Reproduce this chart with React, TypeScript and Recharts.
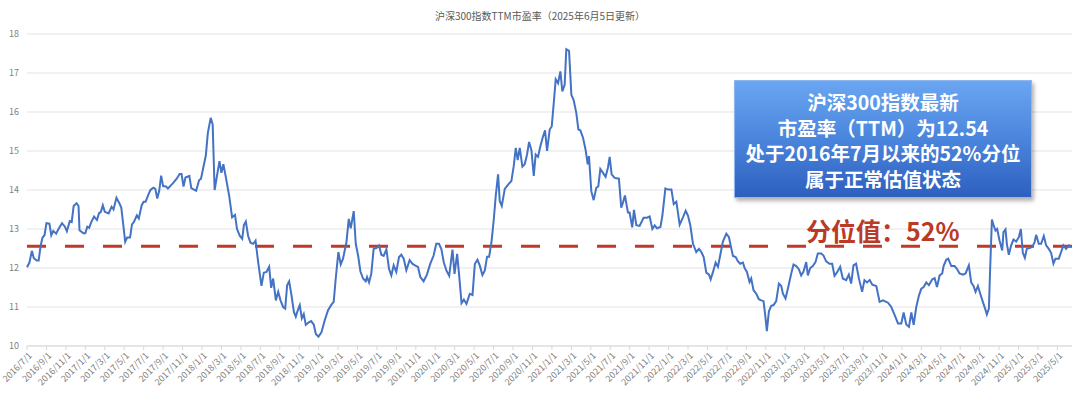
import React from 'react';
import {
  LineChart,
  Line,
  XAxis,
  YAxis,
  CartesianGrid,
  ReferenceLine,
} from 'recharts';

// x = months since 2016/7/1, y = PE (TTM)
const PE_2016_2018: [number, number][] = [
  [0, 12.02], [0.25, 12.14], [0.5, 12.44], [0.7, 12.25], [1.0, 12.19], [1.2, 12.19], [1.4, 12.57], [1.6, 12.78],
  [1.8, 12.84], [2.0, 13.15], [2.3, 13.14], [2.5, 12.84], [2.7, 12.95], [3.0, 12.88], [3.2, 12.98], [3.6, 13.15],
  [3.9, 13.06], [4.1, 12.94], [4.4, 13.2], [4.6, 13.18], [4.8, 13.59], [5.1, 13.66], [5.3, 13.59], [5.4, 12.97],
  [5.8, 12.89], [6.0, 12.89], [6.2, 13.06], [6.4, 13.03], [6.6, 13.17], [6.9, 13.32], [7.2, 13.23], [7.4, 13.4],
  [7.6, 13.44], [7.8, 13.61], [8.0, 13.44], [8.4, 13.4], [8.7, 13.57], [8.9, 13.5], [9.2, 13.8], [9.5, 13.66],
  [9.7, 13.55], [9.9, 13.12], [10.1, 12.67], [10.3, 12.78], [10.6, 12.78], [10.8, 13.12], [11.0, 13.18], [11.3, 13.35],
  [11.5, 13.27], [11.8, 13.61], [12.0, 13.7], [12.2, 13.7], [12.5, 13.89], [12.7, 14.0], [13.0, 14.06], [13.2, 14.03],
  [13.4, 13.78], [13.6, 13.98], [13.8, 14.37], [14.0, 14.1], [14.3, 14.09], [14.5, 14.04], [14.8, 14.12], [15.0, 14.17],
  [15.4, 14.29], [15.7, 14.41], [15.9, 14.41], [16.1, 14.09], [16.3, 14.32], [16.7, 14.36], [16.9, 14.05], [17.4, 13.98],
  [17.7, 14.25], [17.9, 14.29], [18.4, 14.89], [18.6, 15.46], [18.9, 15.85], [19.1, 15.68], [19.3, 14.0], [19.8, 14.74],
  [20.0, 14.44], [20.2, 14.66], [20.4, 14.4], [20.8, 13.85], [21.1, 13.3], [21.4, 13.36], [21.6, 13.0], [21.9, 12.82],
  [22.14, 12.75], [22.31, 13.1], [22.51, 13.19], [22.75, 12.82], [22.99, 12.65], [23.27, 12.62], [23.51, 12.7], [23.78, 12.15],
  [24.12, 11.54], [24.36, 11.88], [24.64, 11.9], [24.91, 12.03], [25.12, 11.49], [25.32, 11.73], [25.6, 11.17], [25.84, 11.39],
  [26.08, 11.17], [26.35, 11.0], [26.56, 10.96], [26.76, 11.56], [26.97, 11.66], [27.21, 11.3], [27.45, 10.88], [27.65, 10.75],
  [27.86, 10.92], [28.06, 11.05], [28.27, 10.71], [28.47, 10.82], [28.68, 10.54], [28.95, 10.6], [29.23, 10.64], [29.5, 10.55],
  [29.71, 10.31], [29.98, 10.24], [30.29, 10.35],
];

const PE_2019_2021: [number, number][] = [
  [30.63, 10.66], [30.97, 10.92], [31.32, 11.06], [31.55, 11.13], [31.76, 11.73], [32.03, 12.41], [32.27, 12.09], [32.51, 12.24],
  [32.86, 12.66], [33.1, 13.26], [33.3, 13.02], [33.61, 13.46], [33.82, 12.62], [34.06, 12.32], [34.3, 11.91], [34.57, 11.73],
  [34.84, 11.66], [34.98, 11.77], [35.19, 11.63], [35.42, 11.86], [35.66, 12.49], [35.94, 12.51], [36.21, 12.58], [36.45, 12.34],
  [36.69, 12.31], [36.97, 12.48], [37.24, 11.98], [37.48, 11.81], [37.72, 12.07], [37.99, 11.9], [38.27, 12.28], [38.51, 12.34],
  [38.75, 12.24], [39.02, 11.94], [39.36, 12.2], [39.64, 12.11], [39.91, 12.07], [40.22, 12.03], [40.46, 11.77], [40.8, 11.66],
  [41.14, 11.83], [41.49, 12.11], [41.83, 12.32], [42.1, 12.62], [42.38, 12.62], [42.62, 12.49], [42.88, 12.14], [43.15, 11.93],
  [43.43, 11.8], [43.77, 12.47], [43.98, 11.85], [44.25, 12.36], [44.46, 11.8], [44.7, 11.1], [44.94, 11.19], [45.21, 11.08],
  [45.55, 11.34], [45.83, 11.31], [46.07, 12.1], [46.34, 12.21], [46.58, 12.06], [46.85, 11.82], [47.09, 11.93], [47.33, 12.29],
  [47.54, 12.29], [47.78, 12.66], [48.02, 13.25], [48.22, 13.85], [48.46, 14.4], [48.63, 13.72], [48.84, 13.59], [49.15, 14.03],
  [49.49, 14.14], [49.83, 14.23], [50.07, 14.61], [50.28, 15.08], [50.48, 14.77], [50.69, 15.08], [50.96, 14.6], [51.2, 14.66],
  [51.44, 14.91], [51.65, 15.23], [51.89, 15.02], [52.13, 14.36], [52.33, 14.91], [52.57, 14.85], [52.81, 15.12], [53.09, 15.38],
  [53.29, 15.53], [53.5, 15.0], [53.77, 15.55], [53.98, 15.63], [54.18, 16.21], [54.39, 16.84], [54.63, 16.74], [54.87, 17.04],
  [55.07, 16.53], [55.31, 16.7], [55.48, 17.61], [55.76, 17.57], [56.0, 16.44], [56.24, 16.3], [56.51, 15.97], [56.72, 15.55],
  [56.92, 15.53], [57.2, 15.34], [57.47, 15.02], [57.68, 14.66], [57.81, 14.87], [58.05, 13.97], [58.29, 13.74], [58.57, 14.06],
  [58.77, 14.09], [58.98, 14.54], [59.25, 14.44], [59.52, 14.34], [59.76, 14.57], [59.94, 14.85], [60.14, 14.4], [60.45, 14.31],
  [60.89, 14.29], [61.13, 13.55], [61.3, 13.67], [61.51, 13.86], [61.82, 13.42], [61.99, 13.42], [62.26, 13.04], [62.44, 13.49],
  [62.68, 13.1], [63.02, 13.08], [63.43, 13.29], [63.77, 13.29], [64.05, 13.32],
];

const PE_2022_2023: [number, number][] = [
  [64.33, 13.0], [64.57, 13.09], [64.81, 13.02], [65.16, 13.05], [65.36, 13.34], [65.67, 14.04], [65.94, 14.01], [66.29, 14.01],
  [66.53, 13.64], [66.8, 13.7], [67.14, 13.11], [67.48, 13.3], [67.76, 13.47], [68.0, 13.34], [68.24, 13.09], [68.51, 12.62],
  [68.85, 12.41], [69.13, 12.49], [69.37, 12.41], [69.61, 12.28], [69.88, 11.88], [70.16, 11.83], [70.33, 11.71], [70.57, 11.9],
  [70.84, 12.14], [71.08, 12.03], [71.32, 12.34], [71.59, 12.68], [71.94, 12.88], [72.21, 12.79], [72.42, 12.54], [72.62, 12.31],
  [72.9, 12.28], [73.14, 12.17], [73.37, 12.11], [73.65, 12.14], [73.82, 12.0], [74.06, 11.9], [74.33, 11.64], [74.5, 11.73],
  [74.74, 11.43], [75.02, 11.34], [75.29, 11.2], [75.53, 11.17], [75.77, 11.15], [75.94, 10.79], [76.11, 10.38], [76.32, 10.89],
  [76.56, 11.03], [76.8, 11.05], [77.07, 11.15], [77.35, 11.6], [77.59, 11.54], [77.76, 11.34], [78.03, 11.22], [78.27, 11.47],
  [78.62, 11.86], [78.85, 12.09], [79.13, 12.05], [79.4, 11.97], [79.64, 11.81], [79.88, 11.91], [80.16, 12.15], [80.33, 11.81],
  [80.57, 12.0], [80.84, 12.05], [81.11, 12.15], [81.35, 12.37], [81.7, 12.37], [81.94, 12.32], [82.21, 12.17], [82.55, 12.11],
  [82.83, 12.11], [83.07, 11.8], [83.31, 11.88], [83.65, 12.03], [83.92, 11.73], [84.27, 11.69], [84.54, 11.83], [84.78, 11.6],
  [85.02, 12.07], [85.29, 12.11], [85.57, 11.74], [85.91, 11.39], [86.15, 11.69], [86.41, 11.63], [86.69, 11.69],
];

const PE_2024_2025: [number, number][] = [
  [86.96, 11.57], [87.37, 11.54], [87.71, 11.13], [88.06, 11.17], [88.57, 11.11], [88.91, 11.0], [89.26, 10.79], [89.6, 10.58],
  [89.94, 10.58], [90.18, 10.86], [90.45, 10.55], [90.73, 10.49], [90.97, 10.86], [91.21, 10.54], [91.48, 11.0], [91.76, 11.3],
  [92.0, 11.47], [92.24, 11.51], [92.51, 11.63], [92.78, 11.56], [93.13, 11.71], [93.37, 11.74], [93.61, 11.51], [93.88, 11.81],
  [94.15, 11.86], [94.29, 12.05], [94.56, 12.21], [94.77, 12.24], [95.08, 12.05], [95.42, 12.05], [95.66, 11.98], [95.93, 11.86],
  [96.28, 11.83], [96.55, 11.86], [96.89, 12.07], [97.13, 11.63], [97.37, 11.54], [97.58, 11.39], [97.82, 11.54], [98.06, 11.34],
  [98.33, 11.13], [98.61, 10.92], [98.74, 10.81], [98.95, 10.96], [99.08, 11.98], [99.26, 13.24], [99.43, 13.1], [99.63, 12.96],
  [99.8, 13.0], [100.04, 12.71], [100.32, 12.45], [100.45, 12.92], [100.66, 12.99], [100.8, 12.62], [101.0, 12.34], [101.24, 12.58],
  [101.48, 12.73], [101.76, 12.68], [102.03, 12.79], [102.24, 13.0], [102.44, 12.39], [102.65, 12.26], [102.85, 12.49], [103.13, 12.51],
  [103.4, 12.54], [103.64, 12.65], [103.81, 12.85], [104.08, 12.62], [104.32, 12.62], [104.6, 12.82], [104.84, 12.58], [105.11, 12.49],
  [105.35, 12.39], [105.59, 12.11], [105.8, 12.24], [106.14, 12.24], [106.38, 12.41], [106.62, 12.58], [106.89, 12.49], [107.17, 12.58],
  [107.41, 12.54],
];

const Y_TICKS = [10, 11, 12, 13, 14, 15, 16, 17, 18];
const PERCENTILE_PE = 12.56;
const TITLE = '沪深300指数TTM市盈率（2025年6月5日更新）';
const BOX_LINES = ['沪深300指数最新', '市盈率（TTM）为12.54', '处于2016年7月以来的52%分位', '属于正常估值状态'];
const PERCENTILE_LABEL = '分位值：52%';

// x-axis: a label every two months, 2016/7/1 .. 2025/5/1
const X_TICKS: number[] = [];
for (let m = 0; m <= 106; m += 2) X_TICKS.push(m);
const monthLabel = (m: number) => {
  const total = 2016 * 12 + 6 + m;
  return `${Math.floor(total / 12)}/${(total % 12) + 1}/1`;
};

const data = [...PE_2016_2018, ...PE_2019_2021, ...PE_2022_2023, ...PE_2024_2025].map(([m, pe]) => ({ m, pe }));

const FONT = '"Noto Sans CJK SC", "Noto Sans", sans-serif';

const DateTick = (props: any) => {
  const { x, y, payload } = props;
  return (
    <g transform={`translate(${x},${y})`}>
      <text
        x={0}
        y={0}
        dy={7}
        dx={1}
        textAnchor="end"
        transform="rotate(-45)"
        fontSize={9}
        fill="#7f7f7f"
        fontFamily={FONT}
      >
        {monthLabel(payload.value)}
      </text>
    </g>
  );
};

export default function App() {
  return (
    <div style={{ position: 'absolute', left: 0, top: 0, width: 1080, height: 397, background: '#fff', fontFamily: FONT }}>
      <div
        style={{
          position: 'absolute',
          top: 8,
          left: 0,
          width: 1080,
          textAlign: 'center',
          fontSize: 10,
          lineHeight: '16px',
          color: '#595959',
        }}
      >
        {TITLE}
      </div>
      <LineChart width={1080} height={397} data={data} margin={{ top: 34, right: 8, left: 0, bottom: 1 }}>
        <CartesianGrid vertical={false} stroke="#e3e3e3" strokeWidth={1} />
        <XAxis
          dataKey="m"
          type="number"
          domain={[0, 107.5]}
          ticks={X_TICKS}
          interval={0}
          height={50}
          tick={<DateTick />}
          tickSize={4}
          tickLine={{ stroke: '#d9d9d9' }}
          axisLine={{ stroke: '#d9d9d9' }}
        />
        <YAxis
          type="number"
          domain={[10, 18]}
          ticks={Y_TICKS}
          width={27}
          axisLine={false}
          tickLine={false}
          tick={{ fontSize: 9, fill: '#7f7f7f', fontFamily: FONT }}
        />
        <ReferenceLine
          y={PERCENTILE_PE}
          stroke="#c0392b"
          strokeWidth={3}
          strokeDasharray="19 19"
        />
        <Line
          type="linear"
          dataKey="pe"
          stroke="#4472c4"
          strokeWidth={2}
          dot={false}
          isAnimationActive={false}
        />
      </LineChart>
      <div
        style={{
          position: 'absolute',
          left: 734,
          top: 80,
          width: 298,
          height: 118,
          boxSizing: 'border-box',
          background: 'linear-gradient(180deg, #6aa6f2 0%, #4a85dc 50%, #2d5fbf 100%)',
          border: '1px solid #8db7ee',
          boxShadow: '2px 3px 4px rgba(0,0,0,0.3)',
          color: '#fff',
          fontWeight: 700,
          fontSize: 19.5,
          textAlign: 'center',
          paddingTop: 8,
        }}
      >
        {BOX_LINES.map((t) => (
          <div key={t} style={{ height: 25.5, lineHeight: '25.5px', overflow: 'visible' }}>
            {t}
          </div>
        ))}
      </div>
      <div
        style={{
          position: 'absolute',
          left: 806,
          top: 213,
          fontSize: 25,
          lineHeight: '34px',
          fontWeight: 700,
          color: '#b93a25',
          whiteSpace: 'nowrap',
        }}
      >
        {PERCENTILE_LABEL}
      </div>
    </div>
  );
}
